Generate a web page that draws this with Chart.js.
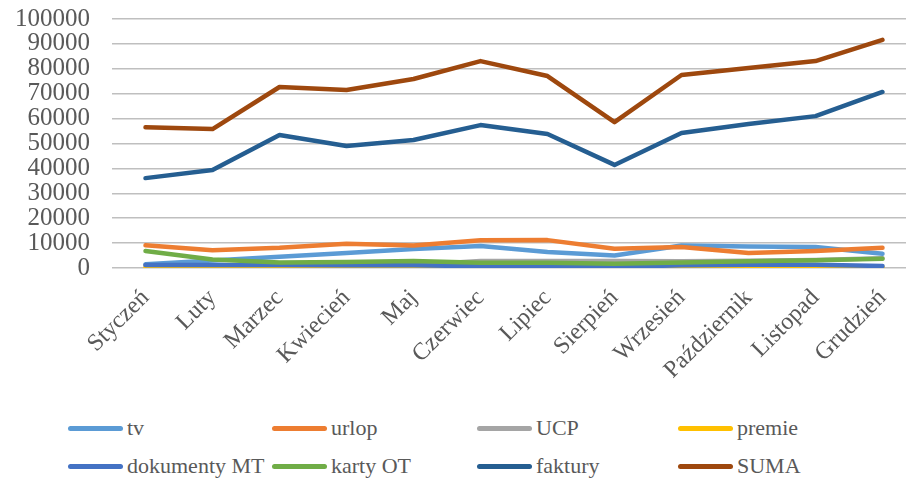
<!DOCTYPE html>
<html>
<head>
<meta charset="utf-8">
<script src="https://cdn.jsdelivr.net/npm/chart.js@4"></script>
<style>
  html, body { margin: 0; padding: 0; background: #fff; overflow: hidden; width: 906px; height: 478px; }
  #wrap { position: absolute; left: 0; top: 0; width: 916px; height: 400px; }
  #legend { position: absolute; left: 0; top: 412px; width: 906px; height: 66px;
            font-family: "Liberation Serif", serif; font-size: 22px; color: #595959; }
  .item { position: absolute; height: 32px; line-height: 32px; white-space: nowrap; }
  .item i { display: inline-block; width: 55px; height: 5px; border-radius: 3px; vertical-align: middle; margin-right: 4px; position: relative; top: -1px; }
</style>
</head>
<body>
<div id="wrap"><canvas id="chart"></canvas></div>
<div id="legend"></div>
<script>
const months = ['Styczeń', 'Luty', 'Marzec', 'Kwiecień', 'Maj', 'Czerwiec', 'Lipiec',
                'Sierpień', 'Wrzesień', 'Październik', 'Listopad', 'Grudzień'];

const tv        = [1500, 3000, 4500, 6000, 7600, 8800, 6400, 5000, 9000, 8600, 8400, 5700];
const urlop     = [9100, 7100, 8100, 9700, 9000, 11100, 11200, 7700, 8400, 6000, 6800, 8100];
const ucp       = [1000, 1000, 1000, 1000, 1200, 2800, 2800, 2800, 2700, 2900, 3200, 3900];
const premie    = [200, 200, 200, 200, 200, 200, 200, 200, 300, 300, 300, 300];
const dokumenty = [1200, 1200, 1200, 1100, 1100, 700, 400, 400, 1100, 1300, 1300, 800];
const kartyOT   = [6800, 3400, 2200, 2400, 2800, 2100, 2100, 1700, 2200, 2700, 3100, 3700];
const faktury   = [36100, 39400, 53400, 49000, 51400, 57400, 53800, 41400, 54200, 57800, 61000, 70700];
const suma      = [56500, 55800, 72700, 71500, 75900, 83100, 77100, 58600, 77500, 80300, 83100, 91600];

const seriesNames  = ['tv', 'urlop', 'UCP', 'premie', 'dokumenty MT', 'karty OT', 'faktury', 'SUMA'];
const seriesValues = [tv, urlop, ucp, premie, dokumenty, kartyOT, faktury, suma];
const seriesColors = ['#5B9BD5', '#ED7D31', '#A5A5A5', '#FFC000', '#4472C4', '#70AD47', '#255E91', '#9E480E'];

const yTicks = { min: 0, max: 100000, step: 10000 };

const textColor = '#595959';
const serif = '"Liberation Serif", serif';

// later series sit on top, like in the spreadsheet
const datasets = seriesNames.map((name, i) => ({
    label: name,
    data: seriesValues[i],
    borderColor: seriesColors[i],
    backgroundColor: seriesColors[i],
    borderWidth: 4.5,
    borderCapStyle: 'round',
    borderJoinStyle: 'round',
    pointRadius: 0,
    tension: 0,
    order: -i
}));

const ctx = document.getElementById('chart').getContext('2d');

const chart = new Chart(ctx, {
    type: 'line',
    data: { labels: months, datasets: datasets },
    options: {
        responsive: true,
        maintainAspectRatio: false,
        animation: false,
        layout: { padding: { top: 19, left: 0, right: 0, bottom: 0 } },
        plugins: { legend: { display: false }, tooltip: { enabled: false } },
        scales: {
            x: {
                offset: true,
                grid: { display: false },
                border: { display: false },
                ticks: {
                    color: textColor,
                    font: { family: serif, size: 24 },
                    minRotation: 45,
                    maxRotation: 45,
                    autoSkip: false,
                    padding: 8
                },
                afterFit: s => { s.height = 132; }
            },
            y: {
                min: yTicks.min,
                max: yTicks.max,
                grid: { color: '#bfbfbf', lineWidth: 1.5, drawTicks: false },
                border: { display: false },
                ticks: {
                    stepSize: yTicks.step,
                    autoSkip: false,
                    color: textColor,
                    font: { family: serif, size: 25 },
                    padding: 22,
                    callback: v => String(v)
                },
                afterFit: s => { s.width = 112; s.paddingTop = 0; s.paddingBottom = 0; }
            }
        }
    }
});

// legend in four fixed columns
const legend = document.getElementById('legend');
const colX = [68, 272, 477, 678];
seriesNames.forEach((name, i) => {
    const el = document.createElement('div');
    el.className = 'item';
    el.style.left = colX[i % 4] + 'px';
    el.style.top = (Math.floor(i / 4) * 38) + 'px';
    el.innerHTML = '<i style="background:' + seriesColors[i] + '"></i>' + name;
    legend.appendChild(el);
});
</script>
</body>
</html>
